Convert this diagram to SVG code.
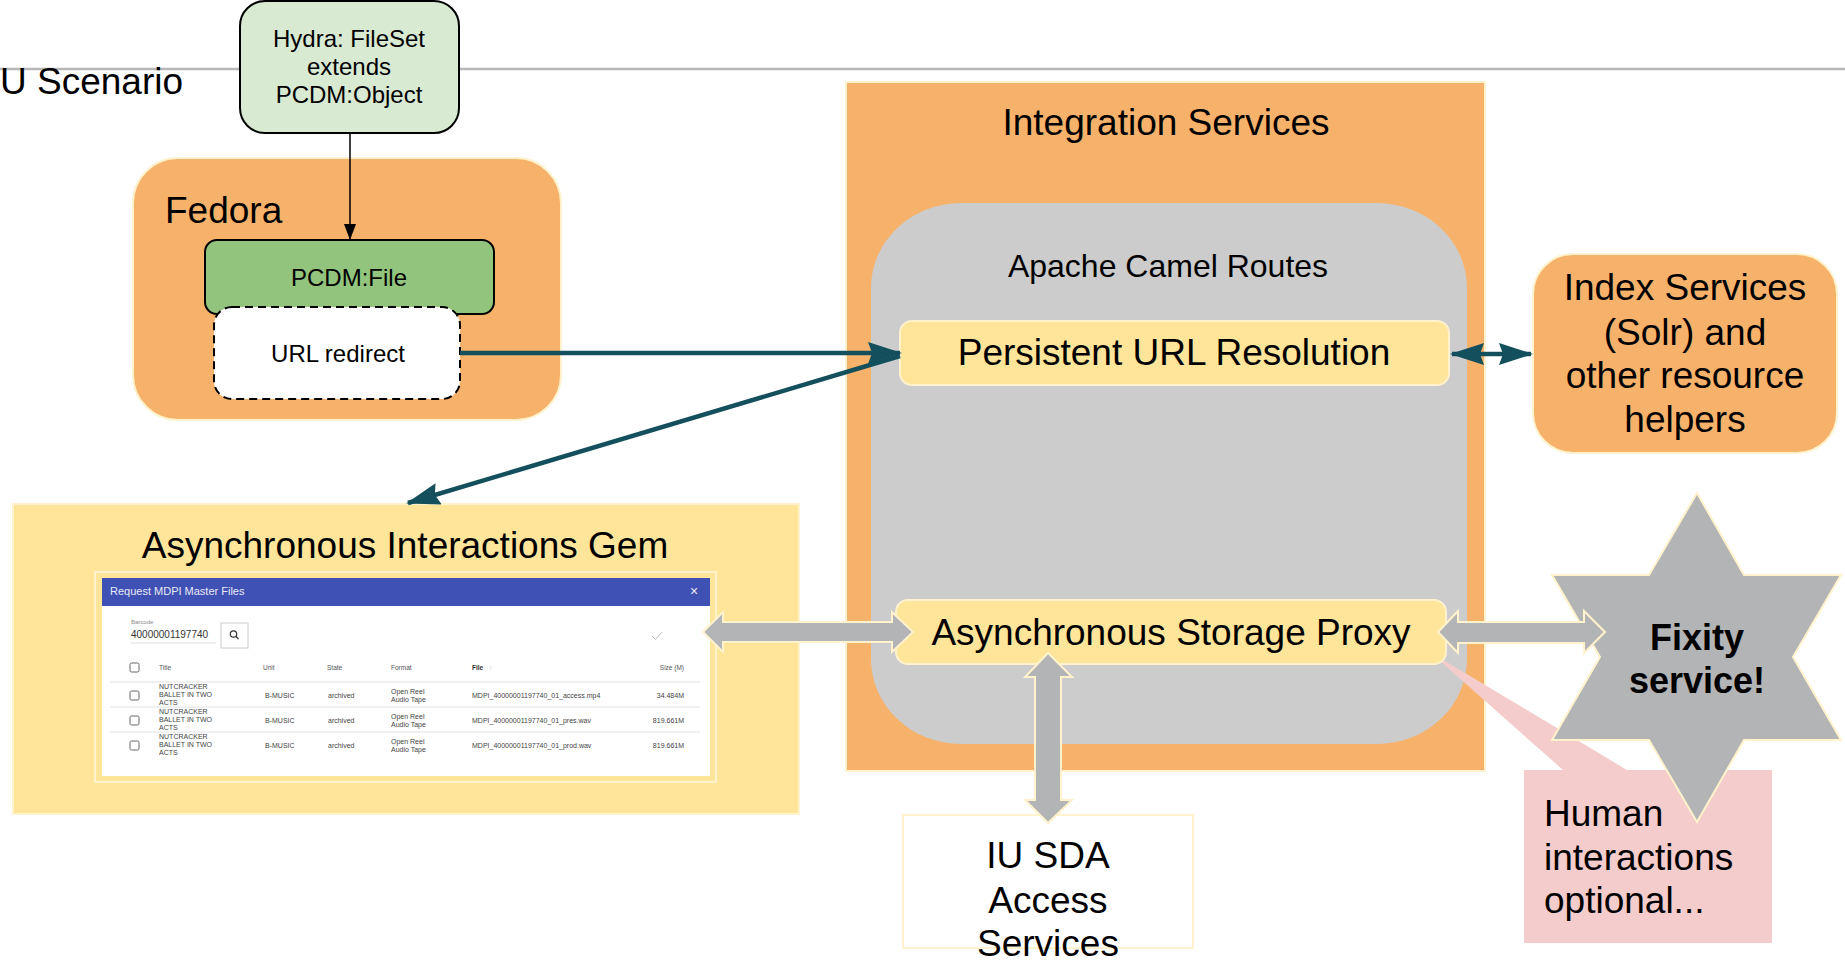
<svg xmlns="http://www.w3.org/2000/svg" width="1845" height="961" viewBox="0 0 1845 961">
<style>
text{font-family:"Liberation Sans",Arial,sans-serif;fill:#000}
.t37{font-size:37px}
.t24{font-size:24px}
.c{text-anchor:middle}
.orange{fill:#f6b26b;stroke:#fff2cc;stroke-width:2}
.yellow{fill:#ffe599;stroke:#fff2cc;stroke-width:2}
.garrow{fill:#b3b4b5;stroke:#fff2cc;stroke-width:2}
.teal{stroke:#134f5c;stroke-width:4.5;fill:none}
.ss{font-size:7px;fill:#444}
.sh{font-size:6.5px;fill:#555}
.cb{fill:#fff;stroke:#666;stroke-width:1}
.sep{stroke:#e0e0e0;stroke-width:1}
</style>
<defs>
<marker id="tealHead" markerUnits="userSpaceOnUse" markerWidth="34" markerHeight="22" refX="32" refY="11" orient="auto-start-reverse">
<path d="M0,0 L34,11 L0,22 L4,11 z" fill="#134f5c"/>
</marker>
<marker id="blackHead" markerUnits="userSpaceOnUse" markerWidth="16" markerHeight="12" refX="15" refY="6" orient="auto">
<path d="M0,0 L16,6 L0,12 z" fill="#000"/>
</marker>
</defs>
<rect width="1845" height="961" fill="#fff"/>

<g id="title">
<line x1="0" y1="69" x2="1845" y2="69" stroke="#b7b7b7" stroke-width="2.5"/>
<text class="t37" x="0" y="94">U Scenario</text>
</g>

<g id="fedora">
<rect class="orange" x="133" y="158" width="428" height="262" rx="45"/>
<text class="t37" x="165" y="223">Fedora</text>
</g>

<g id="pcdm-file">
<rect x="205" y="240" width="289" height="74" rx="12" fill="#93c47d" stroke="#000" stroke-width="2"/>
<text class="t24 c" x="349" y="286">PCDM:File</text>
</g>

<g id="url-redirect">
<rect x="214" y="307" width="246" height="92" rx="18" fill="#fff" stroke="#000" stroke-width="2" stroke-dasharray="8,5"/>
<text class="t24 c" x="338" y="362">URL redirect</text>
</g>

<g id="hydra">
<rect x="240" y="1" width="219" height="132" rx="25" fill="#d9ead3" stroke="#000" stroke-width="2"/>
<text class="t24 c" x="349" y="47">Hydra: FileSet</text>
<text class="t24 c" x="349" y="75">extends</text>
<text class="t24 c" x="349" y="103">PCDM:Object</text>
</g>

<g id="integration-services">
<rect class="orange" x="846" y="82" width="639" height="689"/>
<text class="t37 c" x="1166" y="135">Integration Services</text>
</g>

<g id="camel-routes">
<rect x="871" y="203" width="596" height="541" rx="90" ry="85" fill="#cccccc"/>
<text class="c" x="1168" y="277" font-size="32">Apache Camel Routes</text>
</g>

<g id="persistent-url">
<rect class="yellow" x="900" y="321" width="549" height="64" rx="12"/>
<text class="t37 c" x="1174" y="365">Persistent URL Resolution</text>
</g>

<g id="index-services">
<rect class="orange" x="1533" y="254" width="304" height="199" rx="40"/>
<text class="t37 c" x="1685" y="300">Index Services</text>
<text class="t37 c" x="1685" y="345">(Solr) and</text>
<text class="t37 c" x="1685" y="388">other resource</text>
<text class="t37 c" x="1685" y="432">helpers</text>
</g>

<g id="async-gem">
<rect class="yellow" x="13" y="504" width="786" height="310"/>
<text class="t37 c" x="405" y="558">Asynchronous Interactions Gem</text>
<rect x="95" y="572" width="621" height="210" fill="none" stroke="#fff2cc" stroke-width="2"/>
<rect x="102" y="578" width="608" height="198" fill="#fff"/>
<rect x="102" y="578" width="608" height="28" fill="#3f51b5"/>
<text x="110" y="595" font-size="11" style="fill:#e8eaf6">Request MDPI Master Files</text>
<text x="694" y="596" font-size="14" class="c" style="fill:#e8eaf6">×</text>
<text x="131" y="624" font-size="6" style="fill:#888">Barcode</text>
<text x="131" y="638" font-size="10" style="fill:#333">40000001197740</text>
<line x1="131" y1="643" x2="216" y2="643" stroke="#ddd" stroke-width="1"/>
<rect x="221" y="623" width="27" height="25" fill="#fff" stroke="#ccc" stroke-width="1"/>
<circle cx="233.5" cy="634" r="3.2" fill="none" stroke="#333" stroke-width="1.2"/>
<line x1="235.8" y1="636.3" x2="238.5" y2="639" stroke="#333" stroke-width="1.3"/>
<polyline points="652,636 655.5,639.5 662,632" fill="none" stroke="#bbb" stroke-width="1"/>
<rect class="cb" x="130" y="663" width="9" height="9" rx="1.5"/>
<text class="sh" x="159" y="670">Title</text>
<text class="sh" x="263" y="670">Unit</text>
<text class="sh" x="327" y="670">State</text>
<text class="sh" x="391" y="670">Format</text>
<text class="sh" x="472" y="670" font-weight="bold" style="fill:#333">File</text>
<text class="sh" x="489" y="670" style="fill:#bbb">↑</text>
<text class="sh" x="684" y="670" text-anchor="end">Size (M)</text>
<line class="sep" x1="110" y1="682" x2="700" y2="682"/>
<line class="sep" x1="110" y1="707" x2="700" y2="707"/>
<line class="sep" x1="110" y1="732" x2="700" y2="732"/>
<g>
<rect class="cb" x="130" y="691" width="9" height="9" rx="1.5"/>
<text class="ss" x="159" y="689">NUTCRACKER</text>
<text class="ss" x="159" y="697">BALLET IN TWO</text>
<text class="ss" x="159" y="705">ACTS</text>
<text class="ss" x="265" y="698">B-MUSIC</text>
<text class="ss" x="328" y="698">archived</text>
<text class="ss" x="391" y="694">Open Reel</text>
<text class="ss" x="391" y="702">Audio Tape</text>
<text class="ss" x="472" y="698">MDPI_40000001197740_01_access.mp4</text>
<text class="ss" x="684" y="698" text-anchor="end">34.484M</text>
</g>
<g>
<rect class="cb" x="130" y="716" width="9" height="9" rx="1.5"/>
<text class="ss" x="159" y="714">NUTCRACKER</text>
<text class="ss" x="159" y="722">BALLET IN TWO</text>
<text class="ss" x="159" y="730">ACTS</text>
<text class="ss" x="265" y="723">B-MUSIC</text>
<text class="ss" x="328" y="723">archived</text>
<text class="ss" x="391" y="719">Open Reel</text>
<text class="ss" x="391" y="727">Audio Tape</text>
<text class="ss" x="472" y="723">MDPI_40000001197740_01_pres.wav</text>
<text class="ss" x="684" y="723" text-anchor="end">819.661M</text>
</g>
<g>
<rect class="cb" x="130" y="741" width="9" height="9" rx="1.5"/>
<text class="ss" x="159" y="739">NUTCRACKER</text>
<text class="ss" x="159" y="747">BALLET IN TWO</text>
<text class="ss" x="159" y="755">ACTS</text>
<text class="ss" x="265" y="748">B-MUSIC</text>
<text class="ss" x="328" y="748">archived</text>
<text class="ss" x="391" y="744">Open Reel</text>
<text class="ss" x="391" y="752">Audio Tape</text>
<text class="ss" x="472" y="748">MDPI_40000001197740_01_prod.wav</text>
<text class="ss" x="684" y="748" text-anchor="end">819.661M</text>
</g>
</g>

<g id="human-callout">
<path d="M1524,770 L1563,770 L1430,652 L1627,770 L1772,770 L1772,943 L1524,943 Z" fill="#f4cccc"/>
<text class="t37" x="1544" y="826">Human</text>
<text class="t37" x="1544" y="870">interactions</text>
<text class="t37" x="1544" y="913">optional...</text>
</g>

<g id="async-proxy">
<rect class="yellow" x="896" y="600" width="550" height="64" rx="12"/>
<text class="t37 c" x="1171" y="645">Asynchronous Storage Proxy</text>
</g>

<g id="iu-sda">
<rect x="903" y="815" width="290" height="133" fill="#fff" stroke="#fff2cc" stroke-width="2"/>
<text class="t37 c" x="1048" y="868">IU SDA</text>
<text class="t37 c" x="1048" y="913">Access</text>
<text class="t37 c" x="1048" y="956">Services</text>
</g>

<g id="fixity">
<polygon points="1697,493 1744,575 1841,575 1793,657 1841,740 1744,740 1697,822 1649,740 1552,740 1600,657 1552,575 1649,575" fill="#b3b4b5" stroke="#fff2cc" stroke-width="2"/>
<text class="c" x="1697" y="650" font-size="36" font-weight="bold">Fixity</text>
<text class="c" x="1697" y="693" font-size="36" font-weight="bold">service!</text>
</g>

<g id="connectors">
<line x1="350" y1="133" x2="350" y2="239" stroke="#000" stroke-width="1.5" marker-end="url(#blackHead)"/>
<line class="teal" x1="460" y1="353" x2="900" y2="353" marker-end="url(#tealHead)"/>
<line class="teal" x1="900" y1="356" x2="408" y2="503" marker-end="url(#tealHead)"/>
<line class="teal" x1="1452" y1="354" x2="1531" y2="354" marker-start="url(#tealHead)" marker-end="url(#tealHead)"/>
<polygon class="garrow" points="703,632 723,612 723,622 892,622 892,612 913,632 892,652 892,642 723,642 723,652"/>
<polygon class="garrow" points="1438,632 1458,611 1458,622 1584,622 1584,611 1605,632 1584,653 1584,643 1458,643 1458,653"/>
<polygon class="garrow" points="1048,653 1072,677 1061,677 1061,800 1072,800 1048,823 1025,800 1035,800 1035,677 1025,677"/>
</g>
</svg>
